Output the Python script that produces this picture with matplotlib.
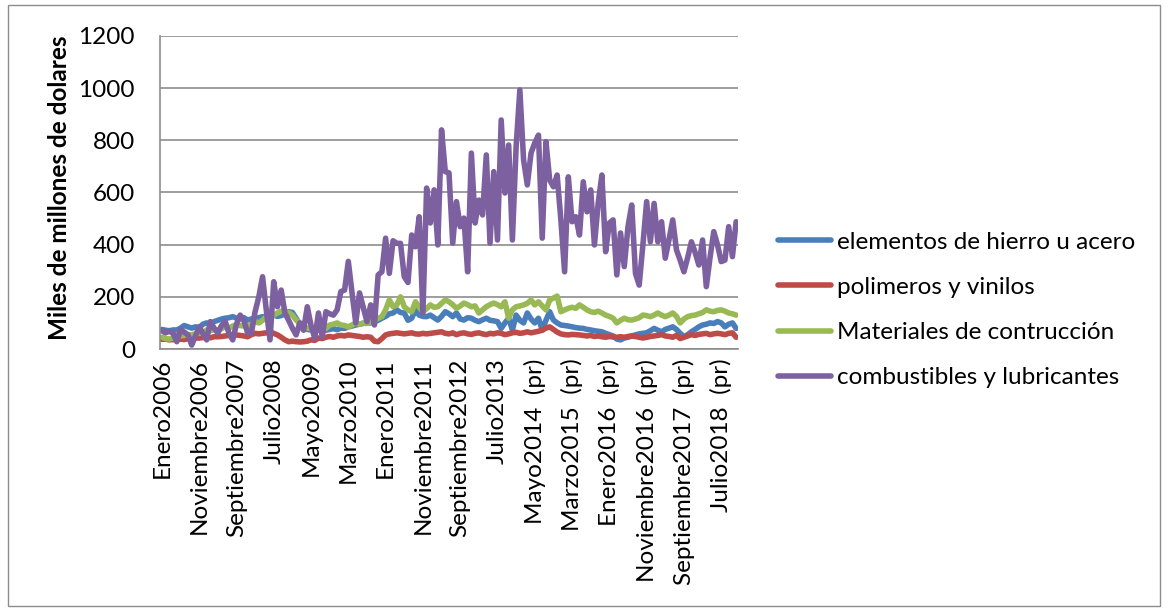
"""Importaciones mensuales por tipo de bien, 2006-2018."""

import matplotlib
matplotlib.use("Agg")
from matplotlib import pyplot as plt
from matplotlib.patches import Rectangle
import numpy as np

# Datos (miles de millones de dolares), Enero2006 .. Noviembre2018
hierro = [75, 72, 70, 73, 73, 80, 90, 85, 80, 85,
          82, 95, 100, 95, 105, 110, 115, 118, 120, 124,
          118, 115, 120, 111, 115, 118, 120, 124, 122, 128,
          130, 125, 128, 135, 143, 140, 118, 95, 79, 75,
          73, 70, 73, 68, 72, 75, 78, 74, 80, 79,
          85, 88, 92, 95, 98, 100, 100, 105, 110, 118,
          125, 135, 138, 150, 140, 138, 110, 118, 150, 130,
          125, 124, 130, 120, 111, 125, 143, 135, 124, 138,
          115, 111, 120, 118, 110, 105, 112, 118, 110, 108,
          105, 79, 100, 118, 73, 130, 110, 100, 138, 115,
          100, 118, 73, 110, 143, 111, 100, 92, 90, 88,
          85, 82, 80, 79, 75, 73, 70, 68, 66, 60,
          55, 50, 38, 35, 42, 45, 50, 54, 58, 60,
          62, 70, 79, 72, 66, 75, 80, 85, 75, 60,
          47, 55, 66, 75, 85, 92, 95, 100, 98, 105,
          100, 85, 95, 100, 79]

polimeros = [37, 38, 35, 36, 35, 38, 36, 40, 38, 42,
             42, 44, 45, 43, 47, 47, 48, 50, 52, 50,
             54, 52, 50, 47, 55, 60, 58, 60, 62, 66,
             60, 54, 45, 35, 28, 30, 28, 27, 28, 30,
             35, 33, 42, 40, 45, 48, 45, 50, 52, 50,
             54, 52, 50, 48, 45, 47, 45, 30, 28, 40,
             54, 58, 60, 62, 60, 58, 60, 62, 58, 57,
             60, 58, 60, 62, 64, 66, 60, 58, 62, 55,
             60, 62, 58, 56, 60, 62, 58, 55, 60, 58,
             62, 60, 55, 58, 62, 64, 60, 62, 66, 62,
             65, 68, 72, 80, 85, 75, 65, 58, 55, 54,
             56, 55, 54, 52, 50, 52, 48, 50, 47, 45,
             48, 46, 45, 47, 45, 48, 50, 48, 45, 42,
             45, 48, 50, 52, 55, 50, 48, 45, 52, 40,
             45, 50, 55, 52, 56, 58, 60, 55, 58, 60,
             58, 55, 60, 62, 45]

construccion = [45, 40, 38, 42, 54, 50, 52, 54, 55, 58,
                60, 62, 73, 70, 75, 73, 78, 85, 80, 88,
                92, 90, 88, 85, 95, 105, 100, 110, 124, 120,
                130, 138, 145, 143, 140, 130, 111, 100, 85, 80,
                79, 75, 73, 76, 79, 92, 95, 100, 92, 90,
                85, 92, 100, 95, 100, 98, 105, 110, 118, 124,
                150, 188, 162, 169, 200, 162, 150, 143, 181, 160,
                143, 155, 169, 160, 162, 175, 188, 181, 170, 156,
                165, 176, 170, 162, 165, 138, 150, 162, 170, 176,
                170, 162, 181, 118, 150, 162, 165, 169, 175, 188,
                169, 181, 165, 150, 188, 195, 203, 143, 150, 156,
                160, 156, 169, 160, 150, 143, 140, 145, 138, 130,
                125, 118, 100, 110, 118, 112, 111, 115, 120, 130,
                128, 124, 130, 138, 130, 124, 130, 138, 125, 100,
                115, 124, 128, 130, 135, 140, 150, 145, 143, 148,
                150, 145, 138, 135, 130]

combustibles = [70, 62, 68, 60, 28, 73, 65, 54, 15, 50,
                85, 60, 35, 105, 80, 61, 90, 105, 60, 35,
                95, 130, 110, 61, 61, 143, 200, 277, 150, 35,
                258, 162, 226, 138, 110, 80, 54, 100, 72, 162,
                90, 41, 138, 47, 143, 135, 130, 150, 220, 226,
                336, 215, 100, 215, 160, 105, 169, 92, 284, 296,
                425, 290, 415, 405, 405, 277, 255, 437, 392, 507,
                138, 617, 483, 610, 399, 840, 680, 675, 406, 565,
                469, 502, 296, 751, 483, 571, 514, 744, 406, 680,
                418, 878, 598, 782, 418, 776, 993, 725, 629, 751,
                790, 820, 425, 795, 648, 622, 667, 495, 296, 660,
                488, 507, 437, 641, 526, 610, 399, 558, 667, 373,
                483, 495, 284, 445, 316, 469, 552, 290, 245, 400,
                565, 411, 558, 411, 488, 348, 420, 495, 380, 340,
                296, 350, 411, 370, 322, 418, 239, 350, 450, 400,
                335, 341, 469, 354, 488]

# Etiquetas del eje X (una cada 10 meses)
etiquetas = ["Enero2006", "Noviembre2006", "Septiembre2007", "Julio2008",
             "Mayo2009", "Marzo2010", "Enero2011", "Noviembre2011",
             "Septiembre2012", "Julio2013", "Mayo2014  (pr)", "Marzo2015  (pr)",
             "Enero2016  (pr)", "Noviembre2016  (pr)", "Septiembre2017  (pr)",
             "Julio2018  (pr)"]

series = ["elementos de hierro u acero", "polimeros y vinilos",
          "Materiales de contrucción", "combustibles y lubricantes"]
colores = ["#4A7EBB", "#BE4B48", "#98B954", "#7D60A0"]

plt.rcParams["font.family"] = ["Lato", "DejaVu Sans"]
fs = 17.5

fig = plt.figure(figsize=(11.69, 6.10), dpi=100)
ax = fig.add_axes([160 / 1169, 1 - 349 / 610, 578 / 1169, 313 / 610])

meses = np.arange(len(combustibles))
lineas = []
for datos, nombre, color in zip([hierro, polimeros, construccion, combustibles], series, colores):
    ln, = ax.plot(meses, datos, color=color, linewidth=4.0, label=nombre,
                  solid_joinstyle="round", solid_capstyle="round")
    lineas.append(ln)

ax.set_xlim(-0.5, len(meses) - 0.5)
ax.set_ylim(0, 1200)
ax.set_yticks(np.arange(0, 1201, 200))
ax.set_xticks(np.arange(0, len(meses), 10))
ax.set_xticklabels(etiquetas, rotation=90, fontsize=fs)
ax.tick_params(axis="y", labelsize=fs, length=0, pad=18)
ax.tick_params(axis="x", length=0, pad=7)

ax.grid(axis="y", color="#8C8C8C", linewidth=1.2)
ax.set_axisbelow(True)
for lado in ["top", "right"]:
    ax.spines[lado].set_visible(False)
for lado in ["left", "bottom"]:
    ax.spines[lado].set_color("#8C8C8C")
    ax.spines[lado].set_linewidth(1.2)

fig.text(60 / 1169, 1 - 188 / 610, "Miles de millones de dolares", rotation=90,
         fontsize=fs, fontweight="bold", ha="center", va="center")

fig.legend(handles=lineas, loc="center left", bbox_to_anchor=(756 / 1169, 1 - 310 / 610),
           frameon=False, fontsize=fs, handlelength=2.2, handletextpad=0.25,
           labelspacing=1.0)

# Marco exterior de la grafica
fig.patches.append(Rectangle((8 / 1169, 4 / 610), 1152 / 1169, 601 / 610,
                             transform=fig.transFigure, fill=False,
                             edgecolor="#8C8C8C", linewidth=1))

fig.savefig("out.png", dpi=100)
